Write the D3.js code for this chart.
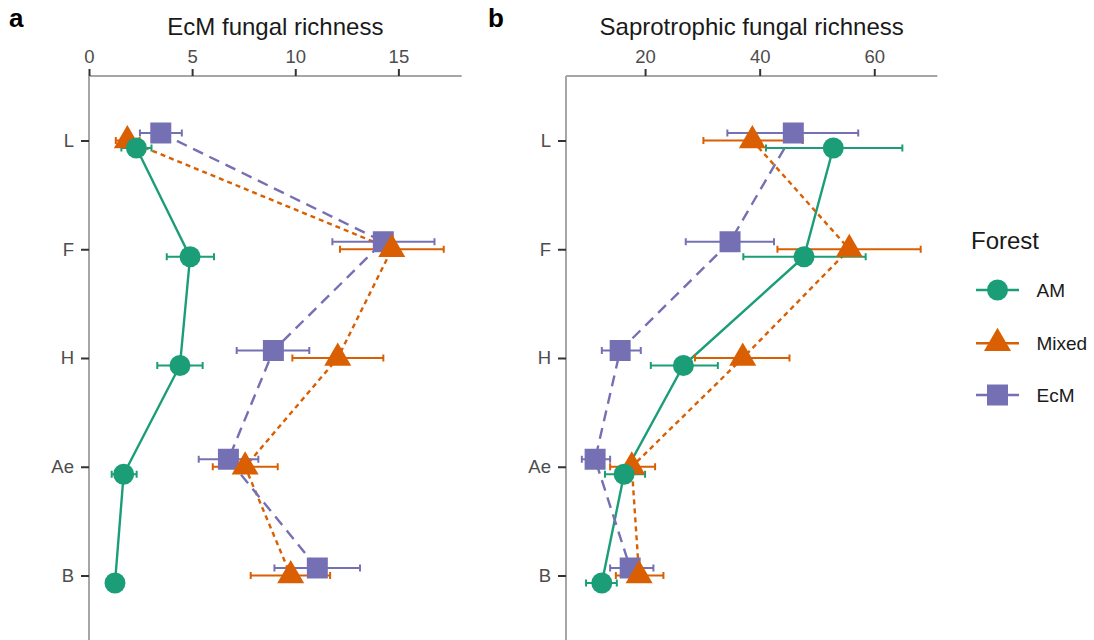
<!DOCTYPE html>
<html>
<head>
<meta charset="utf-8">
<script src="https://cdn.jsdelivr.net/npm/d3@7"></script>
<style>
  body { margin: 0; background: #fff; }
  svg { display: block; font-family: "Liberation Sans", Arial, sans-serif; }
</style>
</head>
<body>
<svg id="chart" width="1094" height="640"></svg>
<script>
// Soil horizons (top to bottom) and forest types
const depths = ["L", "F", "H", "Ae", "B"];
const forests = ["AM", "Mixed", "EcM"];

// Panel a: EcM fungal richness (mean, lower and upper error limits)
const ecmMeanAM    = [2.30, 4.90, 4.41, 1.68, 1.26];
const ecmLowAM     = [1.57, 3.77, 3.31, 1.10, 0.98];
const ecmHighAM    = [3.03, 6.06, 5.51, 2.31, 1.54];
const ecmMeanMixed = [1.86, 14.68, 12.06, 7.57, 9.78];
const ecmLowMixed  = [1.30, 12.17, 9.86, 6.00, 7.84];
const ecmHighMixed = [2.45, 17.20, 14.27, 9.15, 11.69];
const ecmMeanEcM   = [3.48, 14.27, 8.94, 6.76, 11.07];
const ecmLowEcM    = [2.47, 11.80, 7.16, 5.32, 8.99];
const ecmHighEcM   = [4.50, 16.75, 10.68, 8.21, 13.14];

// Panel b: saprotrophic fungal richness
const sapMeanAM    = [52.85, 47.74, 26.69, 16.34, 12.45];
const sapLowAM     = [41.10, 37.15, 21.00, 13.00, 9.70];
const sapHighAM    = [64.90, 58.50, 32.70, 20.00, 15.07];
const sapMeanMixed = [38.72, 55.64, 37.05, 17.68, 18.96];
const sapLowMixed  = [30.18, 43.10, 28.70, 13.90, 14.90];
const sapHighMixed = [47.50, 68.10, 45.20, 21.75, 23.20];
const sapMeanEcM   = [45.87, 34.83, 15.65, 11.28, 17.40];
const sapLowEcM    = [34.36, 27.10, 12.45, 8.96, 13.90];
const sapHighEcM   = [57.20, 42.50, 19.25, 13.90, 21.45];

const ecmTicks = [0, 5, 10, 15];
const sapTicks = [20, 40, 60];

// Styling per forest type
const colors  = { AM: "#1b9e77", Mixed: "#d95f02", EcM: "#7570b3" };
const dashes  = { AM: null, Mixed: "5,4", EcM: "11,7" };
const dodge   = { AM: 7.5, Mixed: 0, EcM: -7.5 };
const symbols = {
  AM: d3.symbol(d3.symbolCircle, 346),
  Mixed: d3.symbol(d3.symbolTriangle, 316),
  EcM: d3.symbol(d3.symbolSquare, 441)
};

function series(means, lows, highs) {
  return depths.map((d, i) => ({ depth: d, mean: means[i], lo: lows[i], hi: highs[i] }));
}

const panels = [
  {
    tag: "a", tagX: 9, title: "EcM fungal richness",
    domain: [0, 18.07], range: [89, 461.7], ticks: ecmTicks,
    data: {
      AM: series(ecmMeanAM, ecmLowAM, ecmHighAM),
      Mixed: series(ecmMeanMixed, ecmLowMixed, ecmHighMixed),
      EcM: series(ecmMeanEcM, ecmLowEcM, ecmHighEcM)
    }
  },
  {
    tag: "b", tagX: 488, title: "Saprotrophic fungal richness",
    domain: [6.2, 71.0], range: [566, 937.3], ticks: sapTicks,
    data: {
      AM: series(sapMeanAM, sapLowAM, sapHighAM),
      Mixed: series(sapMeanMixed, sapLowMixed, sapHighMixed),
      EcM: series(sapMeanEcM, sapLowEcM, sapHighEcM)
    }
  }
];

const svg = d3.select("#chart");
const plotTop = 76, plotBottom = 640;
const y = d3.scalePoint().domain(depths).range([140.5, 575.5]);

const axisGrey = "#a6a6a6", tickDark = "#333333", labelGrey = "#4d4d4d";

panels.forEach(p => {
  const x = d3.scaleLinear().domain(p.domain).range(p.range);
  const g = svg.append("g");

  // panel tag and axis title
  g.append("text").attr("x", p.tagX).attr("y", 27)
    .attr("font-size", 26).attr("font-weight", "bold").attr("fill", "#000").text(p.tag);
  g.append("text").attr("x", (p.range[0] + p.range[1]) / 2).attr("y", 35)
    .attr("text-anchor", "middle").attr("font-size", 24).attr("fill", "#1a1a1a").text(p.title);

  // axis lines
  g.append("line").attr("x1", p.range[0]).attr("x2", p.range[1]).attr("y1", plotTop).attr("y2", plotTop)
    .attr("stroke", axisGrey).attr("stroke-width", 2);
  g.append("line").attr("x1", p.range[0]).attr("x2", p.range[0]).attr("y1", plotTop).attr("y2", plotBottom)
    .attr("stroke", axisGrey).attr("stroke-width", 2);

  // top (x) axis ticks
  const xa = g.append("g").attr("transform", `translate(0,${plotTop})`)
    .call(d3.axisTop(x).tickValues(p.ticks).tickFormat(d3.format("d")).tickSize(7).tickPadding(6));
  xa.select(".domain").remove();
  xa.selectAll(".tick line").attr("stroke", tickDark).attr("stroke-width", 2);
  xa.selectAll(".tick text").attr("fill", labelGrey).attr("font-size", 18.5)
    .attr("font-family", "Liberation Sans, Arial, sans-serif");

  // left (y) axis ticks
  const ya = g.append("g").attr("transform", `translate(${p.range[0]},0)`)
    .call(d3.axisLeft(y).tickSize(8).tickPadding(7));
  ya.select(".domain").remove();
  ya.selectAll(".tick line").attr("stroke", tickDark).attr("stroke-width", 2);
  ya.selectAll(".tick text").attr("fill", labelGrey).attr("font-size", 18.5)
    .attr("font-family", "Liberation Sans, Arial, sans-serif");

  const py = (f, d) => y(d.depth) + dodge[f];

  // connecting lines
  forests.forEach(f => {
    const line = d3.line().x(d => x(d.mean)).y(d => py(f, d));
    g.append("path").datum(p.data[f]).attr("d", line)
      .attr("fill", "none").attr("stroke", colors[f]).attr("stroke-width", 2.4)
      .attr("stroke-dasharray", dashes[f]);
  });

  // error bars
  forests.forEach(f => {
    const eb = g.append("g").attr("stroke", colors[f]).attr("stroke-width", 2);
    p.data[f].forEach(d => {
      const yy = py(f, d);
      eb.append("line").attr("x1", x(d.lo)).attr("x2", x(d.hi)).attr("y1", yy).attr("y2", yy);
      eb.append("line").attr("x1", x(d.lo)).attr("x2", x(d.lo)).attr("y1", yy - 3.5).attr("y2", yy + 3.5);
      eb.append("line").attr("x1", x(d.hi)).attr("x2", x(d.hi)).attr("y1", yy - 3.5).attr("y2", yy + 3.5);
    });
  });

  // points
  ["EcM", "Mixed", "AM"].forEach(f => {
    g.append("g").selectAll("path").data(p.data[f]).join("path")
      .attr("d", symbols[f]())
      .attr("transform", d => `translate(${x(d.mean)},${py(f, d)})`)
      .attr("fill", colors[f]);
  });
});

// Legend
const lg = svg.append("g");
lg.append("text").attr("x", 971).attr("y", 249).attr("font-size", 24).attr("fill", "#1a1a1a").text("Forest");
const legendY = { AM: 290, Mixed: 343.3, EcM: 395 };
forests.forEach(f => {
  const ly = legendY[f];
  lg.append("line").attr("x1", 976).attr("x2", 1019).attr("y1", ly).attr("y2", ly)
    .attr("stroke", colors[f]).attr("stroke-width", 2.4);
  lg.append("path").attr("d", symbols[f]()).attr("transform", `translate(997.5,${ly})`).attr("fill", colors[f]);
  lg.append("text").attr("x", 1036.5).attr("y", ly).attr("dy", "0.35em")
    .attr("font-size", 19).attr("fill", "#1a1a1a").text(f);
});
</script>
</body>
</html>
